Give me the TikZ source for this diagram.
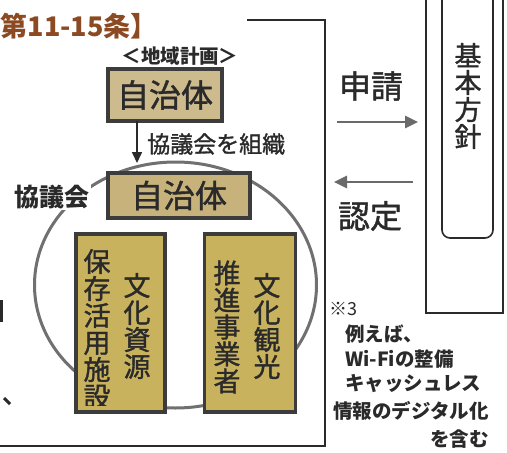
\documentclass[tikz,border=0pt]{standalone}
\usepackage{fontspec}
\setmainfont{Noto Sans CJK JP}
\newfontfamily\jp[FakeBold=1.3]{Noto Sans CJK JP}
\newfontfamily\jpb{Noto Sans CJK JP}
\usetikzlibrary{arrows.meta}
\definecolor{boxline}{HTML}{3C3C3C}
\definecolor{tanA}{HTML}{CDBB8E}
\definecolor{tanB}{HTML}{C8B27C}
\definecolor{goldc}{HTML}{C9B25E}
\definecolor{titlec}{HTML}{8C4A22}
\definecolor{ringc}{HTML}{707070}
\definecolor{arrowc}{HTML}{6A6A6A}
\definecolor{txt}{HTML}{2A2A2A}
\begin{document}
\begin{tikzpicture}[x=1pt,y=-1pt,
  fbox/.style={draw=boxline,line width=3.8pt,inner sep=0pt},
  coltext/.style={inner sep=0pt,align=center,text=txt,font=\jp\fontsize{27}{27}\selectfont},
  bigtext/.style={inner sep=0pt,text=txt,font=\jp\fontsize{32}{32}\selectfont},
  note/.style={inner sep=0pt,anchor=west,text=txt,font=\jpb\bfseries\fontsize{19.5}{19.5}\selectfont},
  grayarrow/.style={draw=arrowc,line width=2.6pt,-{Triangle[length=13pt,width=12pt]},arrowc},
  frame/.style={draw=txt,line width=1.3pt}
]
\useasboundingbox (0,0) rectangle (507,453);
\fill[white] (0,0) rectangle (507,453);

% title
\node[inner sep=0pt,anchor=west,text=titlec,font=\jpb\bfseries\fontsize{27}{27}\selectfont] (title) at (0.5,26) {第11-15条】};

% outer frame
\coordinate (f1) at (247,20);
\coordinate (f2) at (325,20);
\coordinate (f3) at (325,446);
\coordinate (f4) at (0,446);
\draw[frame] (f1) -- (f2) -- (f3) -- (f4);

% plan label
\node[inner sep=0pt,text=txt,font=\jpb\bfseries\fontsize{19.5}{19.5}\selectfont] (plan) at (180,56) {＜地域計画＞};

% ring
\draw[ringc,line width=3pt] (175.5,285) ellipse [x radius=141, y radius=123];

% top box
\node[fbox,fill=tanA,minimum width=114pt,minimum height=52pt] (jichi1) at (165,95) {};
\node[bigtext] (jichi1t) at (jichi1.center) {自治体};

% down arrow
\coordinate (dstart) at (137,121);
\coordinate (dend) at (137,163);
\draw[draw=txt,line width=1.6pt,-{Triangle[length=11pt,width=10pt]}] (dstart) -- (dend);
\node[inner sep=0pt,anchor=west,text=txt,font=\jp\fontsize{23}{23}\selectfont] (soshiki) at (147,144) {協議会を組織};

% kyogikai label
\node[inner sep=1pt,fill=white,text=txt,font=\jpb\bfseries\fontsize{25}{25}\selectfont] (kyogi) at (52,197) {協議会};

% second box
\node[fbox,fill=tanB,minimum width=142pt,minimum height=45pt] (jichi2) at (179,195.5) {};
\node[bigtext] (jichi2t) at (jichi2.center) {自治体};

% left tall box
\node[fbox,fill=goldc,minimum width=89pt,minimum height=178pt] (shisetsu) at (120.5,323) {};
\begin{scope}
\clip (78,235) rectangle (163,405);
\node[coltext] (colA) at (97,329) {保\\存\\活\\用\\施\\設};
\node[coltext] (colB) at (137,326) {文\\化\\資\\源};
\end{scope}

% right tall box
\node[fbox,fill=goldc,minimum width=91pt,minimum height=178pt] (jigyo) at (250,323) {};
\node[coltext] (colC) at (227,327) {推\\進\\事\\業\\者};
\node[coltext] (colD) at (267,326) {文\\化\\観\\光};

% basic policy box
\draw[draw=txt,line width=1.8pt] (426,-5) -- (426,313) -- (503,313) -- (503,-5);
\draw[draw=txt,line width=1.6pt,rounded corners=8pt] (442,-5) -- (442,238) -- (493,238) -- (493,-5);
\node[inner sep=0pt,align=center,text=txt,font=\jp\fontsize{27}{27}\selectfont] (hoshin) at (468,96) {基\\本\\方\\針};

% apply / approve
\node[bigtext] (shinsei) at (371,86) {申請};
\coordinate (a1s) at (337,122);
\coordinate (a1e) at (418,122);
\draw[grayarrow] (a1s) -- (a1e);
\coordinate (a2s) at (413,182);
\coordinate (a2e) at (334,182);
\draw[grayarrow] (a2s) -- (a2e);
\node[bigtext] (nintei) at (370,216) {認定};

% note
\node[note,font=\jpb\fontsize{18}{18}\selectfont] (n0) at (329,309) {※3};
\node[note] (n1) at (345,334) {例えば、};
\node[note] (n2) at (345,359) {Wi-Fiの整備};
\node[note] (n3) at (345,384) {キャッシュレス};
\node[note] (n4) at (333,411) {情報のデジタル化};
\node[note] (n5) at (430,439) {を含む};

% cut-off fragments at left edge
\fill[txt] (0,300) rectangle (3,322);
\draw[txt,line width=3pt] (4,398) -- (10,404);
\end{tikzpicture}
\end{document}
